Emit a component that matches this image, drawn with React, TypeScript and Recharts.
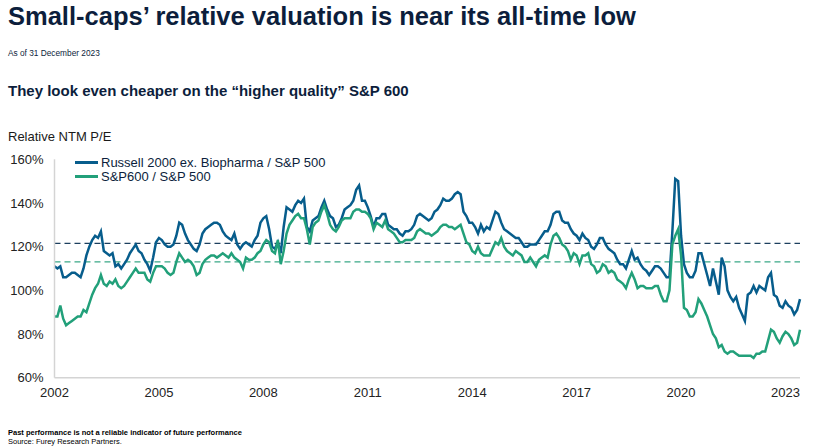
import React from 'react'
import { LineChart, Line, XAxis, YAxis, ReferenceLine } from 'recharts'

// monthly, Jan 2002 onwards
const START_YEAR = 2002

const RUSSELL = [
  111, 110, 111, 106, 106, 107, 108, 108, 107, 106, 110, 116, // 2002
  120, 123, 125, 124, 127, 118, 117, 116, 117, 111, 112, 110, // 2003
  112, 114, 117, 119, 121, 118, 117, 114, 112, 109, 115, 122, // 2004
  124, 123, 121, 120, 120, 121, 125, 131, 130, 126, 123, 121, // 2005
  119, 118, 121, 126, 128, 129, 130, 131, 131, 130, 127, 125, // 2006
  124, 123, 126, 121, 119, 121, 122, 121, 120, 123, 125, 131, // 2007
  133, 134, 128, 120, 119, 122, 117, 129, 138, 137, 136, 139, // 2008
  141, 140, 142, 129, 127, 132, 133, 134, 138, 141, 137, 134, // 2009
  133, 129, 130, 133, 137, 138, 139, 141, 146, 148, 141, 141, // 2010
  138, 134, 129, 133, 133, 135, 135, 130, 129, 128, 128, 126, // 2011
  125, 127, 127, 128, 130, 134, 135, 134, 133, 132, 133, 136, // 2012
  137, 139, 142, 141, 141, 142, 144, 145, 144, 136, 134, 131, // 2013
  131, 129, 126, 130, 127, 129, 128, 132, 136, 135, 131, 128, // 2014
  127, 126, 125, 124, 124, 122, 120, 120, 121, 121, 121, 123, // 2015
  125, 127, 127, 130, 135, 136, 136, 132, 131, 131, 128, 126, // 2016
  125, 123, 126, 124, 123, 120, 119, 121, 124, 124, 121, 119, // 2017
  118, 117, 114, 112, 112, 110, 114, 118, 114, 115, 112, 110, // 2018
  109, 107, 109, 111, 111, 110, 108, 106, 106, 127, 151, 150, // 2019
  125, 112, 108, 106, 106, 109, 117, 117, 112, 107, 102, 110, // 2020
  104, 98, 115, 111, 100, 97, 95, 97, 92, 89, 86, 98, // 2021
  99, 102, 99, 102, 101, 100, 106, 108, 98, 97, 93, 92, // 2022
  95, 93, 92, 89, 91, 96, // 2023
]

const SP600 = [
  88, 88, 93, 87, 84, 85, 86, 87, 88, 88, 91, 90, // 2002
  94, 98, 101, 103, 107, 103, 102, 104, 103, 105, 102, 101, // 2003
  102, 104, 106, 108, 110, 108, 108, 108, 105, 104, 108, 111, // 2004
  111, 111, 110, 108, 107, 108, 113, 117, 115, 113, 114, 113, // 2005
  111, 107, 108, 112, 114, 115, 116, 116, 115, 116, 117, 116, // 2006
  115, 117, 115, 114, 113, 110, 115, 114, 114, 115, 117, 118, // 2007
  121, 123, 122, 118, 117, 123, 112, 118, 126, 130, 132, 134, // 2008
  135, 133, 133, 128, 121, 129, 131, 132, 136, 139, 135, 130, // 2009
  128, 127, 129, 132, 133, 133, 133, 136, 137, 137, 136, 136, // 2010
  135, 133, 128, 131, 130, 129, 132, 128, 127, 126, 124, 122, // 2011
  122, 123, 123, 123, 124, 127, 128, 127, 126, 126, 125, 126, // 2012
  127, 129, 130, 130, 129, 129, 128, 129, 130, 126, 122, 121, // 2013
  118, 117, 120, 117, 116, 116, 116, 119, 122, 121, 124, 120, // 2014
  118, 117, 116, 118, 117, 116, 113, 113, 115, 113, 111, 114, // 2015
  115, 116, 115, 121, 125, 126, 124, 121, 120, 118, 114, 117, // 2016
  116, 112, 116, 116, 117, 112, 111, 108, 109, 112, 111, 108, // 2017
  109, 108, 105, 104, 103, 101, 105, 108, 105, 101, 102, 102, // 2018
  101, 101, 101, 102, 102, 98, 95, 95, 100, 121, 125, 128, // 2019
  116, 92, 91, 88, 88, 90, 96, 94, 91, 88, 84, 80, // 2020
  78, 74, 75, 72, 71, 72, 72, 71, 70, 70, 70, 70, // 2021
  70, 69, 71, 71, 72, 72, 77, 82, 81, 78, 76, 79, // 2022
  81, 80, 78, 75, 76, 82, // 2023
]

// long-run averages (dashed)
const RUSSELL_AVG = 121.5
const SP600_AVG = 113

const YEAR_TICKS = [2002, 2005, 2008, 2011, 2014, 2017, 2020, 2023]
const PCT_TICKS = [60, 80, 100, 120, 140, 160]

const BLUE = '#075d8c'
const GREEN = '#22a07a'
const NAVY = '#0c1e3c'
const FONT = "'Liberation Sans', Arial, Helvetica, sans-serif"

const data = RUSSELL.map((r, i) => ({
  t: START_YEAR + i / 12,
  russell: r,
  sp600: SP600[i],
}))
const lastT = START_YEAR + (RUSSELL.length - 1) / 12

const txt = (top: number, size: number, extra: React.CSSProperties = {}): React.CSSProperties => ({
  position: 'absolute',
  left: 8,
  top,
  fontSize: size,
  lineHeight: `${size}px`,
  whiteSpace: 'nowrap',
  color: NAVY,
  ...extra,
})

function LegendRow({ color, label, top }: { color: string; label: string; top: number }) {
  return (
    <div style={{ position: 'absolute', left: 75, top: top - 7, height: 14, display: 'flex', alignItems: 'center' }}>
      <div style={{ width: 23, height: 3, background: color }} />
      <span style={{ marginLeft: 3, fontSize: 13, color: NAVY, lineHeight: '14px' }}>{label}</span>
    </div>
  )
}

export default function App() {
  return (
    <div style={{ position: 'absolute', left: 0, top: 0, width: 820, height: 447, background: '#fff', fontFamily: FONT, overflow: 'hidden' }}>
      <div style={txt(3.5, 25.5, { fontWeight: 700 })}>Small-caps’ relative valuation is near its all-time low</div>
      <div style={txt(49, 8.3)}>As of 31 December 2023</div>
      <div style={txt(82.7, 15, { fontWeight: 700 })}>They look even cheaper on the “higher quality” S&amp;P 600</div>
      <div style={txt(130.3, 13, { color: '#1a1a1a' })}>Relative NTM P/E</div>

      <div style={{ position: 'absolute', left: 0, top: 0 }}>
        <LineChart width={820} height={447} data={data} margin={{ top: 159.3, right: 20, bottom: 39.3, left: 4.5 }}>
          <XAxis
            type="number"
            dataKey="t"
            domain={[START_YEAR, lastT]}
            ticks={YEAR_TICKS}
            tickFormatter={(v: number) => String(Math.round(v))}
            height={30}
            tickLine={false}
            tickMargin={4}
            axisLine={{ stroke: '#d4d4d4', strokeWidth: 1.5 }}
            tick={{ fill: '#222', fontSize: 13, fontFamily: FONT }}
          />
          <YAxis
            type="number"
            domain={[60, 160]}
            ticks={PCT_TICKS}
            tickFormatter={(v: number) => `${v}%`}
            width={50}
            tickLine={false}
            tickMargin={5}
            axisLine={{ stroke: '#d4d4d4', strokeWidth: 1.5 }}
            tick={{ fill: '#222', fontSize: 13, fontFamily: FONT }}
          />
          <ReferenceLine y={RUSSELL_AVG} stroke="#1c3f5e" strokeWidth={1.3} strokeDasharray="6 4" />
          <ReferenceLine y={SP600_AVG} stroke="#3aa886" strokeWidth={1.3} strokeDasharray="6 4" />
          <Line type="linear" dataKey="russell" stroke={BLUE} strokeWidth={2.5} dot={false} isAnimationActive={false} />
          <Line type="linear" dataKey="sp600" stroke={GREEN} strokeWidth={2.5} dot={false} isAnimationActive={false} />
        </LineChart>
      </div>

      <LegendRow color={BLUE} label="Russell 2000 ex. Biopharma / S&P 500" top={162.7} />
      <LegendRow color={GREEN} label="S&P600 / S&P 500" top={176.7} />

      <div style={txt(429, 7.5, { fontWeight: 700, color: '#000' })}>Past performance is not a reliable indicator of future performance</div>
      <div style={txt(438, 7.5, { color: '#000' })}>Source: Furey Research Partners.</div>
    </div>
  )
}
